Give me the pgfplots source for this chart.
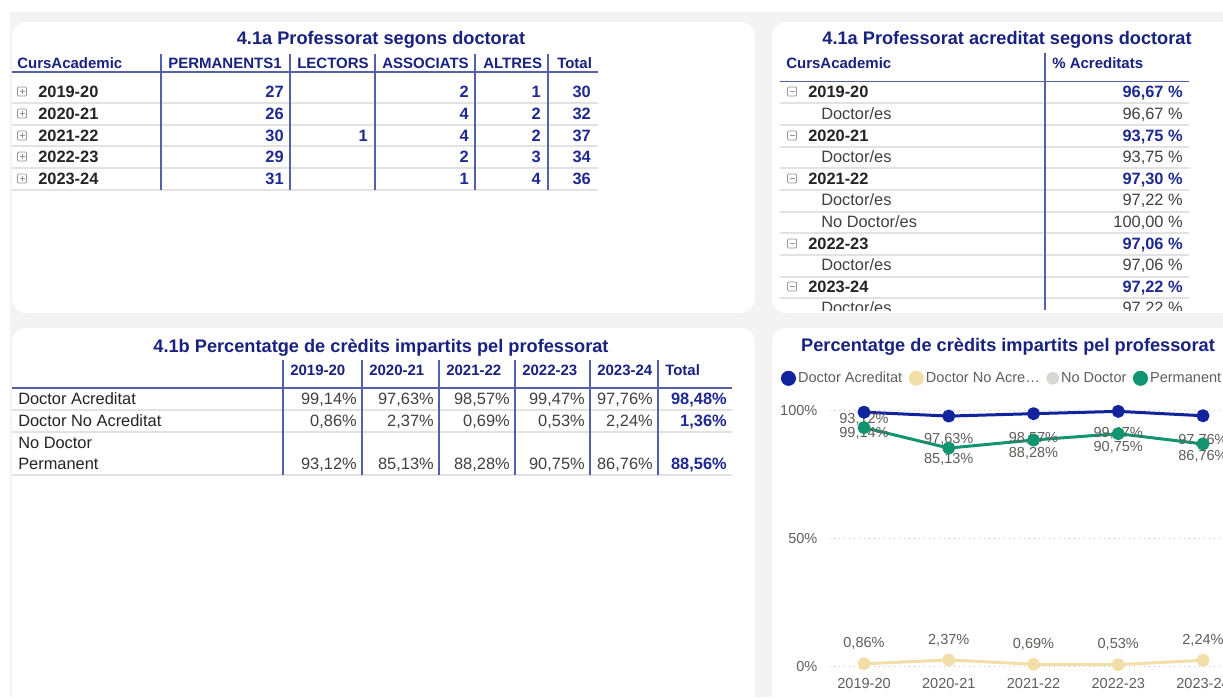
\documentclass[border=0pt]{standalone}
\usepackage{pgfplots}
\pgfplotsset{compat=1.18}
\usepackage{fontspec}
\setmainfont{Liberation Sans}
\definecolor{bg}{RGB}{243,243,243}
\definecolor{navy}{RGB}{18,35,158}
\definecolor{ttl}{RGB}{24,34,128}
\definecolor{navyt}{RGB}{30,42,145}
\definecolor{rulec}{RGB}{85,95,170}
\definecolor{sepc}{RGB}{226,226,226}
\definecolor{dark}{RGB}{37,36,35}
\definecolor{bodyc}{RGB}{64,64,64}
\definecolor{labgray}{RGB}{96,94,92}
\definecolor{beige}{RGB}{242,223,167}
\definecolor{nodoc}{RGB}{215,215,212}
\definecolor{perm}{RGB}{17,148,112}
\definecolor{gridgray}{RGB}{200,200,200}
\definecolor{icong}{RGB}{150,150,150}
\newcommand\fT{\fontsize{13.65pt}{16pt}\selectfont\bfseries}
\newcommand\fH{\fontsize{11.25pt}{13pt}\selectfont\bfseries}
\newcommand\fB{\fontsize{12.3pt}{14pt}\selectfont}
\newcommand\fL{\fontsize{10.9pt}{13pt}\selectfont}
\tikzset{
  T/.style={font=\fT, text=ttl, anchor=base, inner sep=0pt, yshift=-4.87pt},
  H/.style={font=\fH, text=ttl, anchor=base west, inner sep=0pt, yshift=-4.0pt},
  B/.style={font=\fB, text=bodyc, anchor=base west, inner sep=0pt, yshift=-4.4pt},
  BE/.style={font=\fB, text=bodyc, anchor=base east, inner sep=0pt, yshift=-4.4pt},
  BB/.style={font=\fB\bfseries, text=dark, anchor=base west, inner sep=0pt, yshift=-4.4pt},
  VB/.style={font=\fB\bfseries, text=navyt, anchor=base east, inner sep=0pt, yshift=-4.4pt},
  lab/.style={font=\fL, text=labgray, anchor=base, inner sep=0pt, yshift=-3.9pt},
}
% icons
\newcommand\plusicon[2]{\draw[icong, line width=0.6pt, rounded corners=0.8pt] (#1-4.5,#2-5) rectangle (#1+4.5,#2+4);
  \draw[icong, line width=0.6pt] (#1-2.5,#2-0.5) -- (#1+2.5,#2-0.5) (#1,#2-3) -- (#1,#2+2);}
\newcommand\minusicon[2]{\draw[icong, line width=0.6pt, rounded corners=0.8pt] (#1-4.5,#2-5) rectangle (#1+4.5,#2+4);
  \draw[icong, line width=0.6pt] (#1-2.5,#2-0.5) -- (#1+2.5,#2-0.5);}
% table 1 row
\newcommand\OneRow[6]{\plusicon{22}{#1}
  \node[BB] at (38,#1) {#2};
  \node[VB] at (284,#1) {#3};
  \node[VB] at (469,#1) {#4};
  \node[VB] at (541,#1) {#5};
  \node[VB] at (591,#1) {#6};}
% table 2 rows
\newcommand\TwoYear[3]{\minusicon{792}{#1}
  \node[BB] at (808,#1) {#2};
  \node[VB] at (1183,#1) {#3 \%};}
\newcommand\TwoSub[3]{\node[B] at (821,#1) {#2};
  \node[BE] at (1183,#1) {#3 \%};}
% table 3 row
\newcommand\ThreeRow[8]{\node[B, text=dark] at (18,#1) {#2};
  \node[BE] at (357,#1) {#3};
  \node[BE] at (434,#1) {#4};
  \node[BE] at (510,#1) {#5};
  \node[BE] at (585,#1) {#6};
  \node[BE] at (653,#1) {#7};
  \node[VB] at (727,#1) {#8};}
\begin{document}
\begin{tikzpicture}
\begin{scope}[x=0.75pt, y=-0.75pt]
\clip (0,0) rectangle (1223,697);
\fill[white] (0,0) rectangle (1223,697);
\fill[bg] (10,12) rectangle (1223,697);
\fill[white, rounded corners=11pt] (12,22) rectangle (755,313);
\fill[white, rounded corners=11pt] (772,22) rectangle (1250,313);
\fill[white, rounded corners=11pt] (12,328) rectangle (755,720);
\fill[white, rounded corners=11pt] (772,328) rectangle (1250,720);

% ---------- Table 1 ----------
\node[T] at (381,38) {4.1a Professorat segons doctorat};
\foreach \y in {103,125,146,168,190} \draw[sepc, line width=0.9pt] (12,\y) -- (598,\y);
\draw[rulec, line width=0.9pt] (12,72) -- (598,72);
\foreach \x in {161,290,375,475,548} \draw[rulec, line width=0.9pt] (\x,54) -- (\x,190);
\node[H] at (17,63) {CursAcademic};
\node[H] at (168,63) {PERMANENTS1};
\node[H] at (297,63) {LECTORS};
\node[H] at (382,63) {ASSOCIATS};
\node[H] at (483,63) {ALTRES};
\node[H] at (557,63) {Total};
\OneRow{92}{2019-20}{27}{2}{1}{30}
\OneRow{114}{2020-21}{26}{4}{2}{32}
\OneRow{136}{2021-22}{30}{4}{2}{37}
\OneRow{157}{2022-23}{29}{2}{3}{34}
\OneRow{179}{2023-24}{31}{1}{4}{36}
\node[VB] at (368,136) {1};

% ---------- Table 2 ----------
\node[T] at (1007,38) {4.1a Professorat acreditat segons doctorat};
\node[H] at (786,63) {CursAcademic};
\node[H] at (1052,63) {\% Acreditats};
\draw[rulec, line width=0.9pt] (780,81.5) -- (1189,81.5);
\begin{scope}
\clip (775,82) rectangle (1200,310);
\foreach \y in {103,125,147,168,190,212,233,255,277,298} \draw[sepc, line width=0.9pt] (780,\y) -- (1189,\y);
\TwoYear{92}{2019-20}{96,67}
\TwoSub{114}{Doctor/es}{96,67}
\TwoYear{136}{2020-21}{93,75}
\TwoSub{157}{Doctor/es}{93,75}
\TwoYear{179}{2021-22}{97,30}
\TwoSub{200}{Doctor/es}{97,22}
\TwoSub{222}{No Doctor/es}{100,00}
\TwoYear{244}{2022-23}{97,06}
\TwoSub{265}{Doctor/es}{97,06}
\TwoYear{287}{2023-24}{97,22}
\TwoSub{308}{Doctor/es}{97,22}
\end{scope}
\draw[rulec, line width=0.9pt] (1045,53) -- (1045,310);

% ---------- Table 3 ----------
\node[T] at (381,346) {4.1b Percentatge de crèdits impartits pel professorat};
\foreach \y in {410,432,475} \draw[sepc, line width=0.9pt] (12,\y) -- (732,\y);
\draw[rulec, line width=0.9pt] (12,388) -- (732,388);
\foreach \x in {283,362,439,515,590,658} \draw[rulec, line width=0.9pt] (\x,360) -- (\x,475);
\node[H] at (290,370) {2019-20};
\node[H] at (369,370) {2020-21};
\node[H] at (446,370) {2021-22};
\node[H] at (522,370) {2022-23};
\node[H] at (597,370) {2023-24};
\node[H] at (665,370) {Total};
\ThreeRow{399}{Doctor Acreditat}{99,14\%}{97,63\%}{98,57\%}{99,47\%}{97,76\%}{98,48\%}
\ThreeRow{421}{Doctor No Acreditat}{0,86\%}{2,37\%}{0,69\%}{0,53\%}{2,24\%}{1,36\%}
\node[B, text=dark] at (18,443) {No Doctor};
\ThreeRow{464}{Permanent}{93,12\%}{85,13\%}{88,28\%}{90,75\%}{86,76\%}{88,56\%}

% ---------- Chart title ----------
\node[T] at (1008,345) {Percentatge de crèdits impartits pel professorat};

% ---------- Chart ----------
\begin{axis}[
  at={(621.75pt,-499.5pt)}, anchor=south west,
  scale only axis, width=295.5pt, height=192pt,
  xmin=-0.413, xmax=4.236, ymin=0, ymax=100,
  clip=false,
  axis line style={draw=none},
  major tick length=0pt,
  xtick={0,1,2,3,4},
  xticklabels={2019-20,2020-21,2021-22,2022-23,2023-24},
  ytick={0,50,100},
  yticklabels={0\%,50\%,100\%},
  ymajorgrids,
  grid style={draw=gridgray, line width=0.75pt, dash pattern=on 0.75pt off 3pt},
  tick label style={font=\fL, text=labgray, inner sep=0pt},
  xticklabel style={anchor=base, yshift=-16.9pt},
  yticklabel style={anchor=base east, xshift=-8.5pt, yshift=-3.9pt},
  legend columns=4,
  legend style={at={(axis description cs:-0.1226,1.1238)}, anchor=west, draw=none, fill=none,
    inner sep=0pt, font=\fL, text=labgray, nodes={inner sep=0pt, text=labgray},
    /tikz/every odd column/.append style={column sep=1.6pt},
    /tikz/every even column/.append style={column sep=4.9pt}},
  legend image code/.code={\fill[#1] (4.5pt,0pt) circle (4.5pt);},
]
\addplot[color=navy, line width=2.25pt, line join=round, mark=*, mark size=3.75pt]
  coordinates {(0,99.14) (1,97.63) (2,98.57) (3,99.47) (4,97.76)};
\addlegendentry{Doctor Acreditat}
\addplot[color=beige, line width=2.25pt, line join=round, mark=*, mark size=3.75pt]
  coordinates {(0,0.86) (1,2.37) (2,0.69) (3,0.53) (4,2.24)};
\addlegendentry{Doctor No Acre…}
\addlegendimage{color=nodoc}
\addlegendentry{No Doctor}
\addplot[color=perm, line width=2.25pt, line join=round, mark=*, mark size=3.75pt]
  coordinates {(0,93.12) (1,85.13) (2,88.28) (3,90.75) (4,86.76)};
\addlegendentry{Permanent}
% data labels
\node[lab] at (axis cs:0,96.76) {93,12\%};
\node[lab] at (axis cs:0,91.13) {99,14\%};
\node[lab] at (axis cs:1,88.95) {97,63\%};
\node[lab] at (axis cs:1,81.13) {85,13\%};
\node[lab] at (axis cs:2,89.34) {98,57\%};
\node[lab] at (axis cs:2,83.32) {88,28\%};
\node[lab] at (axis cs:3,91.13) {99,47\%};
\node[lab] at (axis cs:3,85.66) {90,75\%};
\node[lab] at (axis cs:4,88.55) {97,76\%};
\node[lab] at (axis cs:4,82.42) {86,76\%};
\node[lab] at (axis cs:0,9.10) {0,86\%};
\node[lab] at (axis cs:1,10.43) {2,37\%};
\node[lab] at (axis cs:2,8.87) {0,69\%};
\node[lab] at (axis cs:3,8.87) {0,53\%};
\node[lab] at (axis cs:4,10.43) {2,24\%};
\end{axis}
\end{scope}
\pgfresetboundingbox
\path[use as bounding box] (0,0) rectangle (917.25pt,-522.75pt);
\end{tikzpicture}
\end{document}
